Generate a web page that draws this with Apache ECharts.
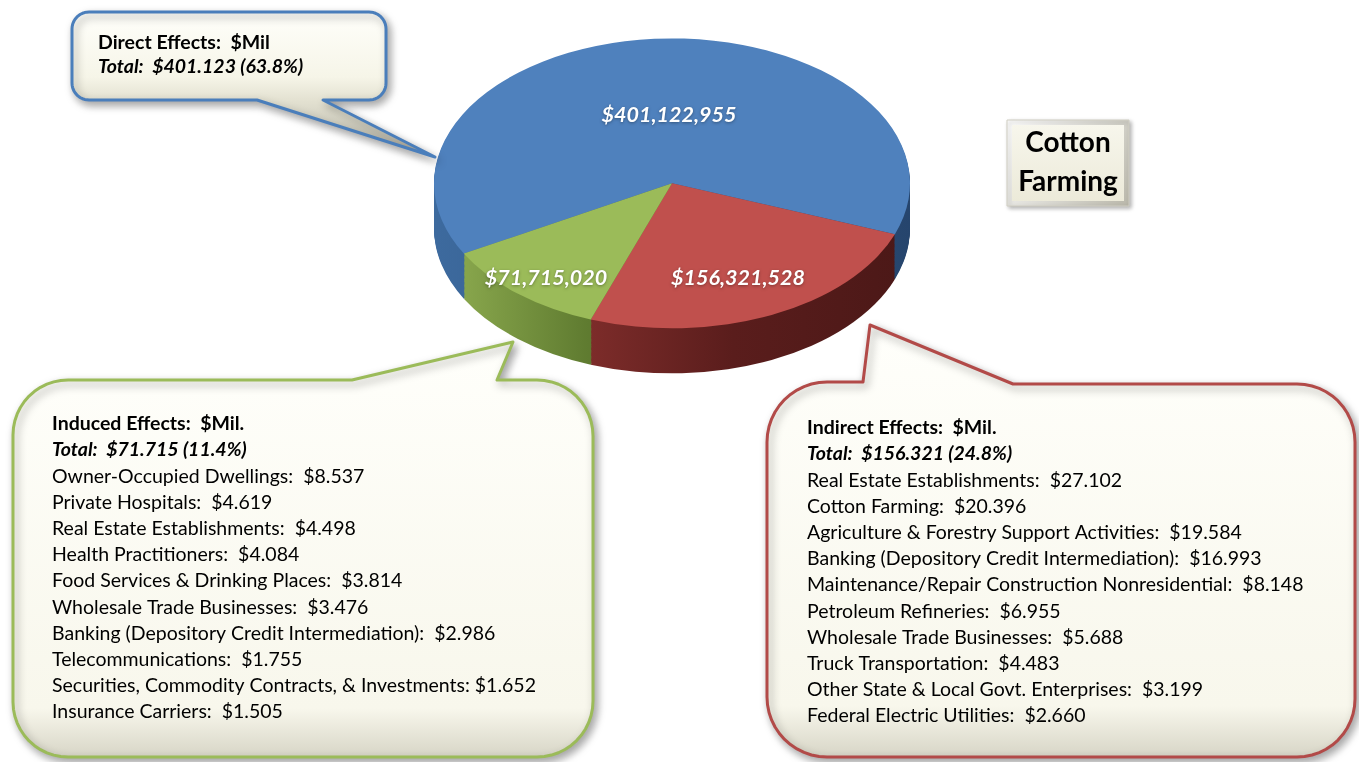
<!DOCTYPE html>
<html>
<head>
<meta charset="utf-8">
<title>Cotton Farming</title>
<script src="https://cdn.jsdelivr.net/npm/echarts@6/dist/echarts.min.js"></script>
<style>
  html, body { margin: 0; padding: 0; background: #fff; }
  #wrap { position: relative; width: 1359px; height: 762px; overflow: hidden; }
  #pie { position: absolute; width: 600px; height: 600px; transform-origin: 0 0; }
  #main { position: absolute; left: 0; top: 0; width: 1359px; height: 762px; }
</style>
</head>
<body>
<div id="wrap">
  <div id="pie"></div>
  <div id="main"></div>
</div>
<script>
// pie slices (dollars)
const effectNames = ['Direct', 'Indirect', 'Induced'];
const effectValues = [401122955, 156321528, 71715020];
// totals as printed in the callouts, $Mil
const effectTotalsMil = [401.123, 156.321, 71.715];

// induced effects, $Mil
const inducedNames = [
  'Owner-Occupied Dwellings:  ',
  'Private Hospitals:  ',
  'Real Estate Establishments:  ',
  'Health Practitioners:  ',
  'Food Services & Drinking Places:  ',
  'Wholesale Trade Businesses:  ',
  'Banking (Depository Credit Intermediation):  ',
  'Telecommunications:  ',
  'Securities, Commodity Contracts, & Investments: ',
  'Insurance Carriers:  '
];
const inducedValues = [8.537, 4.619, 4.498, 4.084, 3.814, 3.476, 2.986, 1.755, 1.652, 1.505];

// indirect effects, $Mil
const indirectNames = [
  'Real Estate Establishments:  ',
  'Cotton Farming:  ',
  'Agriculture & Forestry Support Activities:  ',
  'Banking (Depository Credit Intermediation):  ',
  'Maintenance/Repair Construction Nonresidential:  ',
  'Petroleum Refineries:  ',
  'Wholesale Trade Businesses:  ',
  'Truck Transportation:  ',
  'Other State & Local Govt. Enterprises:  ',
  'Federal Electric Utilities:  '
];
const indirectValues = [27.102, 20.396, 19.584, 16.993, 8.148, 6.955, 5.688, 4.483, 3.199, 2.660];

// ---- pie (drawn round, squashed with css to look tilted) ----
const SQUASH = 0.609;
const PIE_R = 238;
const PIE_CX = 300;
const PIE_CY = 260;
const SIDE_DEPTH = 74; // unsquashed px

const pieEl = document.getElementById('pie');
pieEl.style.left = (672 - PIE_CX) + 'px';
pieEl.style.top = (183 - PIE_CY * SQUASH) + 'px';
pieEl.style.transform = 'scaleY(' + SQUASH + ')';

const topColors = ['#4f81bd', '#c0504d', '#9bbb59'];
const sideColors = [
  { type: 'linear', x: 62, y: 0, x2: 538, y2: 0, global: true,
    colorStops: [{ offset: 0, color: '#3d6a9e' }, { offset: 1, color: '#26456d' }] },
  { type: 'linear', x: 216, y: 0, x2: 538, y2: 0, global: true,
    colorStops: [{ offset: 0, color: '#7d2c2a' }, { offset: 0.45, color: '#5a1d1c' }, { offset: 1, color: '#4b1817' }] },
  { type: 'linear', x: 90, y: 0, x2: 216, y2: 0, global: true,
    colorStops: [{ offset: 0, color: '#88a64c' }, { offset: 1, color: '#5f7b30' }] }
];

const makePie = (dy, colors, z) => ({
  type: 'pie',
  radius: PIE_R,
  center: [PIE_CX, PIE_CY + dy],
  startAngle: 209,
  z: z,
  silent: true,
  animation: false,
  label: { show: false },
  labelLine: { show: false },
  emphasis: { disabled: true },
  itemStyle: { borderWidth: 0 },
  data: effectValues.map((v, i) => ({
    name: effectNames[i],
    value: v,
    itemStyle: { color: colors[i] }
  }))
});

const pieSeries = [];
let zz = 1;
for (let d = SIDE_DEPTH; d > 0; d -= 2) {
  pieSeries.push(makePie(d, sideColors, zz++));
}
pieSeries.push(makePie(0, topColors, 200));

const pieChart = echarts.init(pieEl, null, { renderer: 'svg' });
pieChart.setOption({ animation: false, series: pieSeries });

// ---- overlay: callouts and text ----
const FONT = 'Lato, "Open Sans", sans-serif';
const FS = '19.5px ';
const total = effectValues.reduce((a, b) => a + b, 0);
const pct = (v) => (v / total * 100).toFixed(1) + '%';
const money = (v) => '$' + v.toLocaleString('en-US');
const totalLine = (i) => 'Total:  $' + effectTotalsMil[i].toFixed(3) + ' (' + pct(effectValues[i]) + ')';

const text = (str, x, y, font, extra) => ({
  type: 'text',
  z: 50,
  silent: true,
  style: Object.assign({
    text: str, x: x, y: y, font: font, fill: '#000',
    align: 'left', verticalAlign: 'middle'
  }, extra || {})
});

// rounded corner points (screen angles, y down)
const arc = (cx, cy, r, a0, a1) => {
  const pts = [];
  for (let k = 0; k <= 12; k++) {
    const a = (a0 + (a1 - a0) * k / 12) * Math.PI / 180;
    pts.push([cx + r * Math.cos(a), cy + r * Math.sin(a)]);
  }
  return pts;
};

const creamFill = (darkAt) => ({
  type: 'linear', x: 0, y: 0, x2: 0, y2: 1,
  colorStops: [
    { offset: 0, color: '#fffffb' },
    { offset: darkAt, color: '#f8f7ec' },
    { offset: 1, color: '#d6d4c5' }
  ]
});

const shadow = {
  shadowBlur: 8,
  shadowOffsetX: 3,
  shadowOffsetY: 4,
  shadowColor: 'rgba(0,0,0,0.35)'
};

const LINE_H = 26.2;
const graphics = [];

// direct callout
const directShape = [].concat(
  arc(89, 29, 17, 180, 270),
  arc(369, 29, 17, 270, 360),
  arc(369, 83, 17, 0, 90),
  [[323, 100], [435, 157], [257, 100]],
  arc(89, 83, 17, 90, 180)
);
graphics.push({
  type: 'polygon', z: 10, silent: true,
  shape: { points: directShape },
  style: Object.assign({
    fill: { type: 'linear', x: 0, y: 0, x2: 0, y2: 1,
      colorStops: [{ offset: 0, color: '#fffffb' }, { offset: 0.45, color: '#f6f5e8' },
        { offset: 0.6, color: '#e4e2d2' }, { offset: 1, color: '#b5b3a6' }] },
    stroke: '#4a7ebb', lineWidth: 3, lineJoin: 'round'
  }, shadow)
});
graphics.push(text('Direct Effects:  $Mil', 98, 43, 'bold ' + FS + FONT));
graphics.push(text(totalLine(0), 98, 67, 'italic bold ' + FS + FONT));

// induced callout (green)
const inducedShape = [].concat(
  arc(68, 435, 55, 180, 270),
  [[352, 380], [513, 342], [497, 380]],
  arc(537, 436, 56, 270, 360),
  arc(537, 701, 56, 0, 90),
  arc(68, 702, 55, 90, 180)
);
graphics.push({
  type: 'polygon', z: 10, silent: true,
  shape: { points: inducedShape },
  style: Object.assign({ fill: creamFill(0.88), stroke: '#9bbb59', lineWidth: 3, lineJoin: 'round' }, shadow)
});
graphics.push(text('Induced Effects:  $Mil.', 52, 424, 'bold ' + FS + FONT));
graphics.push(text(totalLine(2), 52, 424 + LINE_H, 'italic bold ' + FS + FONT));
inducedNames.forEach((n, i) => {
  graphics.push(text(n + '$' + inducedValues[i].toFixed(3), 52, 424 + LINE_H * (i + 2), FS + FONT));
});

// indirect callout (red)
const indirectShape = [].concat(
  arc(827, 442, 60, 180, 270),
  [[863, 382], [870, 325], [1013, 384]],
  arc(1297, 442, 58, 270, 360),
  arc(1297, 699, 58, 0, 90),
  arc(827, 697, 60, 90, 180)
);
graphics.push({
  type: 'polygon', z: 10, silent: true,
  shape: { points: indirectShape },
  style: Object.assign({ fill: creamFill(0.88), stroke: '#b24a48', lineWidth: 3, lineJoin: 'round' }, shadow)
});
graphics.push(text('Indirect Effects:  $Mil.', 807, 428, 'bold ' + FS + FONT));
graphics.push(text(totalLine(1), 807, 428 + LINE_H, 'italic bold ' + FS + FONT));
indirectNames.forEach((n, i) => {
  graphics.push(text(n + '$' + indirectValues[i].toFixed(3), 807, 428 + LINE_H * (i + 2), FS + FONT));
});

// title box
graphics.push({
  type: 'rect', z: 10, silent: true,
  shape: { x: 1007, y: 120, width: 122, height: 86 },
  style: Object.assign({
    fill: { type: 'linear', x: 0, y: 0, x2: 1, y2: 1,
      colorStops: [{ offset: 0, color: '#ffffff' }, { offset: 1, color: '#b9b7aa' }] },
    stroke: '#d0cec2', lineWidth: 1
  }, { shadowBlur: 4, shadowOffsetX: 2, shadowOffsetY: 2, shadowColor: 'rgba(0,0,0,0.3)' })
});
graphics.push({
  type: 'rect', z: 11, silent: true,
  shape: { x: 1012, y: 125, width: 112, height: 76 },
  style: { fill: { type: 'linear', x: 0, y: 0, x2: 0, y2: 1,
    colorStops: [{ offset: 0, color: '#f7f6ec' }, { offset: 1, color: '#ecead9' }] } }
});
graphics.push(text('Cotton', 1068, 143, 'bold 28px ' + FONT, { align: 'center' }));
graphics.push(text('Farming', 1068, 182, 'bold 28px ' + FONT, { align: 'center' }));

// slice value labels
const sliceLabelPos = [[669, 115], [738, 278], [546, 278]];
effectValues.forEach((v, i) => {
  graphics.push(text(money(v), sliceLabelPos[i][0], sliceLabelPos[i][1], 'italic bold 21.5px ' + FONT, {
    fill: '#fff', align: 'center',
    textShadowColor: 'rgba(0,0,0,0.35)', textShadowBlur: 3, textShadowOffsetY: 1
  }));
});

const mainChart = echarts.init(document.getElementById('main'));
mainChart.setOption({
  backgroundColor: 'transparent',
  animation: false,
  graphic: { elements: graphics }
});

window.addEventListener('resize', () => {
  pieChart.resize();
  mainChart.resize();
});
</script>
</body>
</html>
